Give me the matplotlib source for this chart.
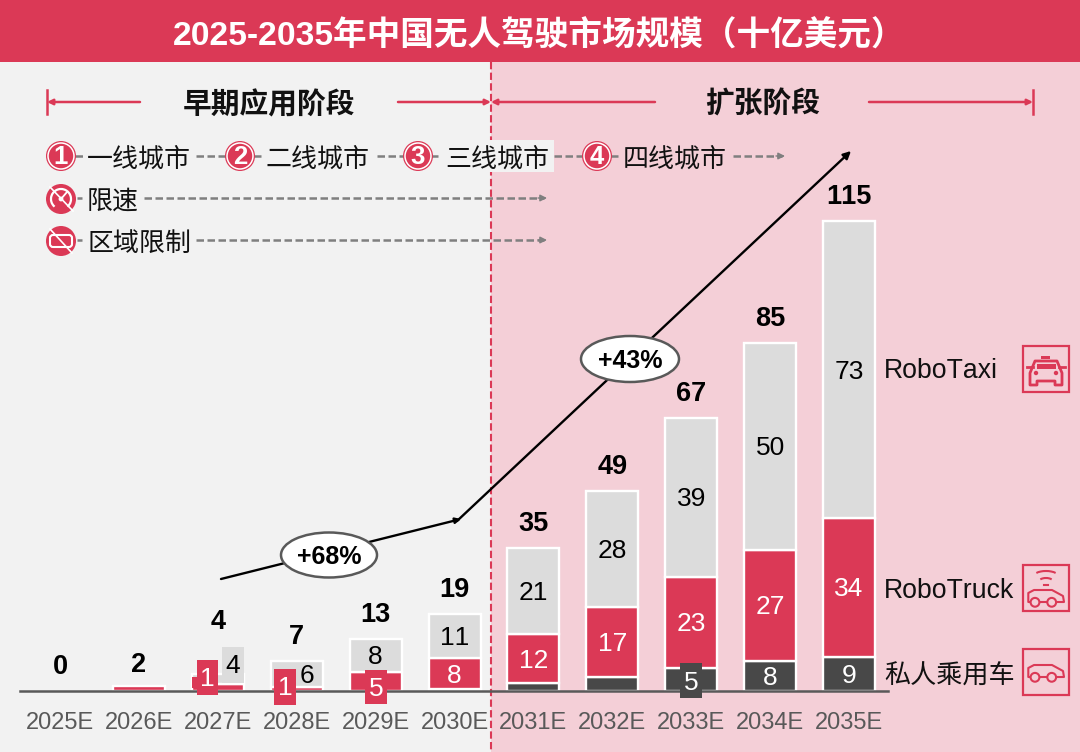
import numpy as np
import matplotlib
matplotlib.use("Agg")
import matplotlib.pyplot as plt
from matplotlib.patches import Rectangle, Ellipse, Circle, Polygon, Arc, FancyBboxPatch

FONT = ['Liberation Sans', 'Noto Sans CJK SC']
plt.rcParams['font.family'] = FONT
plt.rcParams['text.kerning_factor'] = 6

years = ['2025E','2026E','2027E','2028E','2029E','2030E','2031E','2032E','2033E','2034E','2035E']
private = [0, 0, 0, 0, 0, 0.4, 1.9, 3.4, 5.6, 7.4, 8.4]
truck = [0, 1.2, 1.6, 1.0, 4.6, 7.6, 12.0, 17.2, 22.5, 27.3, 34.0]
taxi = [0, 0, 2.6, 6.3, 8.2, 10.9, 21.2, 28.5, 39.0, 50.8, 73.0]
totals = [0, 2, 4, 7, 13, 19, 35, 49, 67, 85, 115]
private_labels = ['', '', '', '', '', '', '', '', '', '8', '9']
truck_labels = ['', '', '', '', '', '8', '12', '17', '23', '27', '34']
taxi_labels = ['', '', '', '', '8', '11', '21', '28', '39', '50', '73']

RED, GREY, DARK = '#DB3956', '#DCDCDC', '#484848'
LEFT_BG, RIGHT_BG = '#F2F2F2', '#F4CFD7'
LINE = '#7F7F7F'
W, H = 1080, 752
SPLIT = 491

fig = plt.figure(figsize=(W/100, H/100), dpi=100, facecolor=LEFT_BG)


def pixel_axes(z):
    a = fig.add_axes([0, 0, 1, 1], zorder=z)
    a.set_xlim(0, W)
    a.set_ylim(H, 0)
    a.axis('off')
    a.patch.set_alpha(0)
    return a


bg = pixel_axes(1)
top = pixel_axes(3)

# --- backgrounds and header
bg.add_patch(Rectangle((SPLIT, 62), W-SPLIT, H-62, fc=RIGHT_BG, ec='none'))
bg.add_patch(Rectangle((0, 0), W, 62, fc=RED, ec='none'))
bg.text(539, 36, '2025-2035年中国无人驾驶市场规模（十亿美元）', color='white', fontsize=24.2,
        fontweight='bold', ha='center', va='center')
bg.plot([SPLIT, SPLIT], [62, H], color=RED, lw=1.5, ls=(0, (3.5, 1.6)))


# --- phase brackets
def solid_arrow(a, x0, y0, x1, y1, color, lw=1.5, ms=9):
    a.annotate('', xy=(x1, y1), xytext=(x0, y0),
               arrowprops=dict(arrowstyle='-|>', color=color, lw=lw, mutation_scale=ms,
                               shrinkA=0, shrinkB=0))


for x0, x1 in [(140, 47), (398, 491), (655, 491), (869, 1033)]:
    solid_arrow(bg, x0, 102, x1, 102, RED, lw=1.8, ms=8)
for x in (47, 1033):
    bg.plot([x, x], [90, 114], color=RED, lw=1.8)
bg.text(269, 105, '早期应用阶段', fontsize=20.7, fontweight='bold', ha='center', va='center', color='#111111')
bg.text(763, 105, '扩张阶段', fontsize=20.7, fontweight='bold', ha='center', va='center', color='#111111')


# --- roadmap rows
def dashed(a, x0, x1, y, head=False):
    a.plot([x0, x1], [y, y], color=LINE, lw=1.8, ls=(0, (3, 1.4)), solid_capstyle='butt')
    if head:
        solid_arrow(a, x1-6, y, x1+3, y, LINE, lw=1, ms=10)


bg.add_patch(Rectangle((440, 140), 114, 32, fc=LEFT_BG, ec='none', zorder=3))
row1 = [(61, '1', 87, '一线城市'), (240, '2', 266, '二线城市'),
        (418, '3', 445, '三线城市'), (597, '4', 623, '四线城市')]
for x0, x1 in [(75, 83), (196, 226), (254, 261), (377, 404), (432, 438), (554, 582), (611, 618)]:
    dashed(bg, x0, x1, 156)
dashed(bg, 733, 782, 156, head=True)
for cx, num, tx, label in row1:
    bg.add_patch(Circle((cx, 156), 15, fc=RED, ec='none', zorder=4))
    bg.add_patch(Circle((cx, 156), 13, fc=RED, ec='white', lw=1.1, zorder=4))
    bg.text(cx, 157.5, num, color='white', fontsize=18.5, fontweight='bold', ha='center', va='center', zorder=5)
    bg.text(tx, 159, label, fontsize=18.7, ha='left', va='center', color='#111111', zorder=5)

dashed(bg, 77, 82, 198)
dashed(bg, 144, 544, 198, head=True)
dashed(bg, 77, 82, 240)
dashed(bg, 196, 544, 240, head=True)
bg.text(87, 201.5, '限速', fontsize=18.7, va='center', color='#111111')
bg.text(87, 243.5, '区域限制', fontsize=18.7, va='center', color='#111111')

# speed-limit icon
bg.add_patch(Circle((61, 199), 15, fc=RED, ec='none', zorder=4))
bg.add_patch(Arc((61, 199), 20, 20, theta1=130, theta2=50, color='white', lw=1.6, zorder=5))
bg.add_patch(Circle((61, 199), 2.4, fc='white', ec='none', zorder=5))
bg.plot([61, 67], [199, 192], color='white', lw=1.3, zorder=5)
bg.plot([50, 73], [187, 211], color='white', lw=1.2, zorder=5)
# area-limit icon
bg.add_patch(Circle((61, 241), 15, fc=RED, ec='none', zorder=4))
bg.add_patch(FancyBboxPatch((50, 235), 22, 12, boxstyle='round,pad=0,rounding_size=3',
                            fc='none', ec='white', lw=1.5, zorder=5))
bg.plot([50, 72], [229, 253], color='white', lw=1.2, zorder=5)

# --- growth arrows
solid_arrow(bg, 221, 579, 461, 519, 'black', lw=1.7, ms=8)
solid_arrow(bg, 457, 521, 851, 151, 'black', lw=1.7, ms=11)
for cx, cy, w, h, txt in [(329, 555, 96, 45, '+68%'), (630, 359, 98, 46, '+43%')]:
    bg.add_patch(Ellipse((cx, cy), w, h, fc='white', ec='#595959', lw=1.8, zorder=4))
    bg.text(cx, cy+1.5, txt, fontsize=18, fontweight='bold', ha='center', va='center', zorder=5)

# --- stacked bars on a real axis whose bottom spine is the baseline
AX_L, AX_R, BASE = 20, 888, 691
PX_PER_UNIT, PX_PER_YEAR, FIRST = 4.07, 78.9, 60
ax = fig.add_axes([AX_L/W, (H-BASE)/H, (AX_R-AX_L)/W, BASE/H], zorder=2)
ax.patch.set_alpha(0)
ax.set_xlim((AX_L-FIRST)/PX_PER_YEAR, (AX_R-FIRST)/PX_PER_YEAR)
ax.set_ylim(0, BASE/PX_PER_UNIT)
for side in ('top', 'left', 'right'):
    ax.spines[side].set_visible(False)
ax.spines['bottom'].set_color('#595959')
ax.spines['bottom'].set_linewidth(1.8)
ax.set_yticks([])
xs = np.arange(len(years))
ax.set_xticks(xs, years)
ax.tick_params(axis='x', length=0, pad=15, labelsize=17, labelcolor='#595959')

private_a, truck_a, taxi_a = map(np.array, (private, truck, taxi))
BAR_W = 52/PX_PER_YEAR
style = dict(width=BAR_W, edgecolor='white', linewidth=1.7)
ax.bar(xs[1:], private_a[1:], color=DARK, **style)
ax.bar(xs[1:], truck_a[1:], bottom=private_a[1:], color=RED, **style)
ax.bar(xs[2:], taxi_a[2:], bottom=(private_a+truck_a)[2:], color=GREY, **style)

LABEL_DROP = 0.45
for i in xs:
    p, t, g = private[i], truck[i], taxi[i]
    if private_labels[i]:
        ax.text(i, p/2-LABEL_DROP, private_labels[i], color='white', fontsize=19, ha='center', va='center')
    if truck_labels[i]:
        ax.text(i, p+t/2-LABEL_DROP, truck_labels[i], color='white', fontsize=19, ha='center', va='center')
    if taxi_labels[i]:
        ax.text(i, p+t+g/2-LABEL_DROP, taxi_labels[i], color='black', fontsize=19, ha='center', va='center')

extra_lift = {2: 28, 1: -3}
for i, total in enumerate(totals):
    stack = private[i]+truck[i]+taxi[i]
    lift = 24+extra_lift.get(i, 0)
    ax.annotate(str(total), xy=(i, stack), xytext=(0, lift*0.72), textcoords='offset points',
                fontsize=19.5, fontweight='bold', ha='center', va='center', annotation_clip=False)

# --- small labels that sit in their own boxes
callouts = [
    (192, 677, 26, 11, RED, None, 0, 0),
    (197, 660, 21, 35, RED, '1', 207, 679),
    (222, 647, 22, 36, GREY, '4', 233, 666),
    (274, 669, 22, 36, RED, '1', 285, 688),
    (365, 670, 22, 34, RED, '5', 376, 689),
    (680, 663, 22, 35, DARK, '5', 691, 683),
]
for x, y, w, h, col, txt, tx, ty in callouts:
    top.add_patch(Rectangle((x, y), w, h, fc=col, ec='none'))
    if txt:
        top.text(tx, ty, txt, fontsize=19, ha='center', va='center',
                 color='black' if col == GREY else 'white')
top.text(307, 676, '6', fontsize=19, ha='center', va='center', color='black')

# --- right-side legend
for y, label, size in [(371.5, 'RoboTaxi', 19.2), (590.5, 'RoboTruck', 19.2), (676.5, '私人乘用车', 18.8)]:
    top.text(884, y, label, fontsize=size, ha='left', va='center', color='#111111')
for y0 in (346, 565, 649):
    top.add_patch(Rectangle((1023, y0), 46, 46, fc='none', ec=RED, lw=1.6))


def car(cy):
    body = np.array([(-17.7, 4.5), (-17.7, -4.5), (-12, -7.5), (6, -7.5), (17, -1.5), (18, 4.5)])
    pts = body+[1046, cy]
    top.add_patch(Polygon(pts, closed=True, fc='none', ec=RED, lw=1.5, joinstyle='round'))
    for dx in (-11, 5.7):
        top.add_patch(Circle((1046+dx, cy+4.8), 4.4, fc=RIGHT_BG, ec=RED, lw=1.5, zorder=3))


car(672.5)
car(597.5)
for w, h, cy in [(25, 11, 576.5), (14, 7, 581.5)]:
    top.add_patch(Arc((1046, cy), w, h, theta1=200, theta2=340, color=RED, lw=1.5))
top.plot([1044, 1048], [584.5, 584.5], color=RED, lw=1.5)

# taxi icon
taxi_outline = np.array([(-16, 15), (-16, 3), (-11, -9), (11, -9), (16, 3), (16, 15), (9, 15), (9, 11), (-9, 11), (-9, 15)])
top.add_patch(Polygon(taxi_outline+[1046, 370], closed=True, fc='none', ec=RED, lw=2, joinstyle='round'))
top.add_patch(Rectangle((1037, 363.5), 19, 5, fc=RED, ec='none'))
top.add_patch(Rectangle((1041, 355.5), 9, 3.5, fc=RED, ec='none'))
for dx in (-10, 10):
    top.add_patch(Circle((1046+dx, 373), 2.2, fc=RED, ec='none'))
for x0, x1 in [(1027, 1033), (1059, 1065)]:
    top.plot([x0, x1], [367, 367], color=RED, lw=2)

fig.savefig('out.png', dpi=100, facecolor=fig.get_facecolor())
